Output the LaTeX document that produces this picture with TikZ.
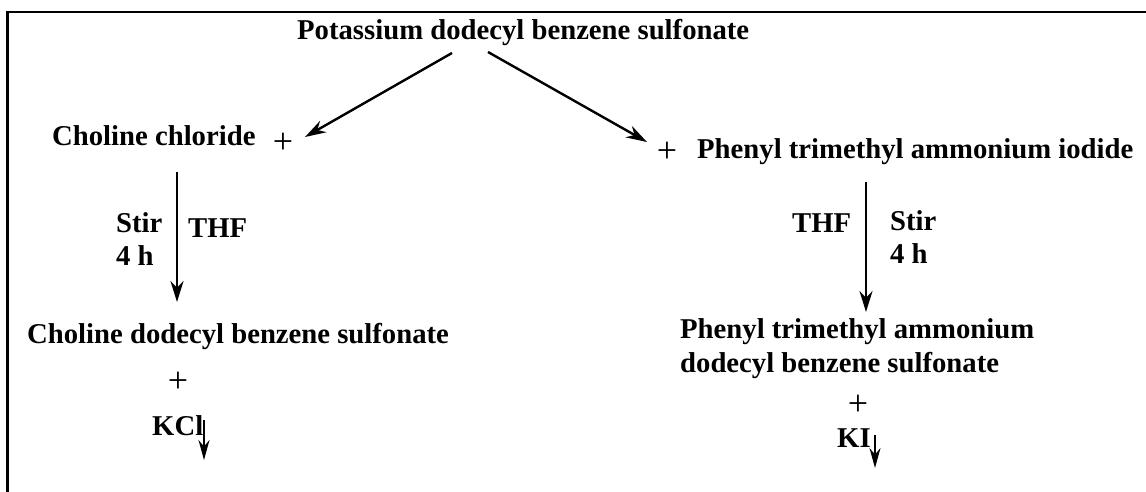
\documentclass[tikz,border=0pt]{standalone}
\usepackage{fontspec}
\setmainfont{Liberation Serif}
\usetikzlibrary{arrows.meta,positioning}
\tikzset{
  chem/.style={font=\fontsize{28.7}{34}\selectfont\bfseries, inner sep=0pt, anchor=base west},
  plussign/.style={font=\fontsize{36}{40}\selectfont, inner sep=0pt, anchor=center},
  rxn/.style={-{Stealth[length=21pt,width=13pt]}, line width=2.4pt},
  drop/.style={-{Stealth[length=20pt,width=11pt]}, line width=1.8pt},
  frame/.style={line width=2.2pt}
}
\begin{document}
\begin{tikzpicture}[x=1pt,y=-1pt]
  \useasboundingbox (0,0) rectangle (1146,492);
  \draw[frame] (7.5,492) -- (7.5,12) -- (1146,12);

  \node[chem] (pdbs) at (297,40) {Potassium dodecyl benzene sulfonate};
  \node[chem] (cc) at (52,146) {Choline chloride};
  \node[plussign] (plusL) at (283,143) {+};
  \node[plussign] (plusR) at (667,152) {+};
  \node[chem] (ptai) at (697,158) {Phenyl trimethyl ammonium iodide};

  \node[chem] (stirL) at (116,232) {Stir};
  \node[chem] (hL) at (116,265) {4 h};
  \node[chem] (thfL) at (188,237) {THF};
  \node[chem] (thfR) at (792,232) {THF};
  \node[chem] (stirR) at (890,230) {Stir};
  \node[chem] (hR) at (890,263) {4 h};

  \node[chem] (cdbs) at (27,343) {Choline dodecyl benzene sulfonate};
  \node[plussign] (plusKCl) at (178,382) {+};
  \node[chem] (kcl) at (152,435) {KCl};

  \node[chem] (ptds) at (680,338) {Phenyl trimethyl ammonium};
  \node[chem] (ptds2) at (680,372) {dodecyl benzene sulfonate};
  \node[plussign] (plusKI) at (858,405) {+};
  \node[chem] (ki) at (837,447) {KI};

  \coordinate (splitL) at (452,53);
  \coordinate (splitR) at (488,52);
  \coordinate (inL) at (305,137);
  \coordinate (inR) at (647,142);
  \coordinate (downLa) at (177,172);
  \coordinate (downLb) at (177,302);
  \coordinate (downRa) at (866,182);
  \coordinate (downRb) at (866,312);
  \coordinate (kclA) at (204,420);
  \coordinate (kclB) at (204,460);
  \coordinate (kiA) at (875,435);
  \coordinate (kiB) at (875,468);

  \draw[rxn] (splitL) -- (inL);
  \draw[rxn] (splitR) -- (inR);
  \draw[rxn] (downLa) -- (downLb);
  \draw[rxn] (downRa) -- (downRb);
  \draw[drop] (kclA) -- (kclB);
  \draw[drop] (kiA) -- (kiB);
\end{tikzpicture}
\end{document}
